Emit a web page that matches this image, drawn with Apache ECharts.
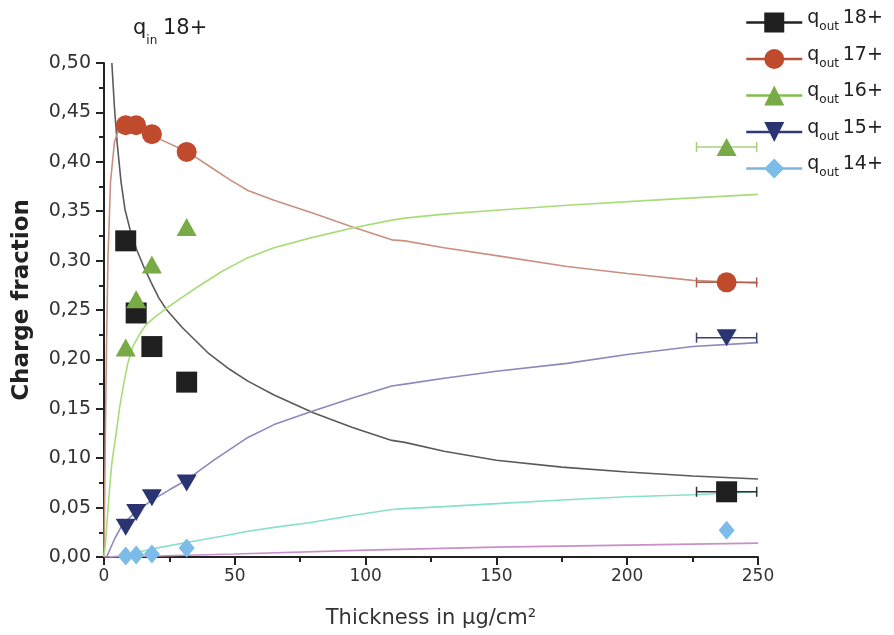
<!DOCTYPE html>
<html>
<head>
<meta charset="utf-8">
<script src="https://cdn.jsdelivr.net/npm/echarts@6/dist/echarts.min.js"></script>
<style>html,body{margin:0;padding:0;background:#fff}#c{width:894px;height:635px}</style>
</head>
<body>
<div id="c"></div>
<script>
// ---- Data ----
const thickness = [8.3, 12.3, 18.3, 31.6, 238];
const q18 = [0.320, 0.247, 0.213, 0.177, 0.066];
const q17 = [0.437, 0.437, 0.428, 0.410, 0.278];
const q16 = [0.212, 0.261, 0.296, 0.334, 0.415];
const q15 = [0.030, 0.045, 0.060, 0.075, 0.222];
const q14 = [0.001, 0.002, 0.003, 0.009, 0.027];
const xErr = [0, 0, 0, 0, 11.5];
const seriesLabels = ['18+', '17+', '16+', '15+', '14+'];
const yTickLabels = ['0,00', '0,05', '0,10', '0,15', '0,20', '0,25', '0,30', '0,35', '0,40', '0,45', '0,50'];

// simulated curves
const sim18x = [3, 4, 5, 6.5, 8, 10, 12.5, 15, 18, 21, 24, 30, 40, 48, 55, 65, 80, 95, 110, 115, 130, 150, 175, 200, 225, 250];
const sim18y = [0.50, 0.455, 0.42, 0.38, 0.352, 0.331, 0.311, 0.295, 0.278, 0.262, 0.250, 0.232, 0.206, 0.190, 0.178, 0.164, 0.146, 0.131, 0.118, 0.116, 0.107, 0.098, 0.091, 0.086, 0.082, 0.079];
const sim17x = [0, 0.5, 1, 1.5, 2.5, 4, 6, 8, 12, 18, 32, 40, 48, 55, 65, 80, 95, 110, 115, 130, 150, 177, 200, 225, 250];
const sim17y = [0, 0.12, 0.22, 0.30, 0.38, 0.42, 0.436, 0.438, 0.435, 0.427, 0.410, 0.396, 0.382, 0.371, 0.361, 0.348, 0.334, 0.321, 0.320, 0.313, 0.305, 0.294, 0.287, 0.280, 0.277];
const sim16x = [0, 0.5, 1, 2, 3, 4, 4.8, 6, 7.3, 9, 11, 13.5, 16, 20, 24, 30, 35, 45, 55, 65, 79, 95, 110, 115, 130, 150, 177, 215, 250];
const sim16y = [0, 0.012, 0.03, 0.065, 0.095, 0.114, 0.128, 0.152, 0.172, 0.195, 0.213, 0.225, 0.235, 0.244, 0.252, 0.263, 0.272, 0.289, 0.303, 0.313, 0.323, 0.333, 0.341, 0.343, 0.347, 0.351, 0.356, 0.362, 0.367];
const sim15x = [1, 4, 7.3, 12, 18, 25, 31.6, 42, 55, 65, 79, 95, 110, 115, 130, 150, 177, 200, 225, 250];
const sim15y = [0, 0.018, 0.034, 0.045, 0.057, 0.068, 0.078, 0.098, 0.121, 0.134, 0.147, 0.161, 0.173, 0.175, 0.181, 0.188, 0.196, 0.205, 0.213, 0.217];
const sim14x = [2, 6, 10, 15, 20, 32, 45, 55, 65, 79, 95, 110, 115, 130, 150, 177, 200, 225, 250];
const sim14y = [0, 0.001, 0.003, 0.006, 0.009, 0.015, 0.021, 0.026, 0.030, 0.035, 0.042, 0.048, 0.049, 0.051, 0.054, 0.058, 0.061, 0.063, 0.066];
const sim13x = [0, 20, 50, 100, 150, 200, 250];
const sim13y = [0, 0.001, 0.003, 0.007, 0.010, 0.012, 0.014];

// ---- Styles ----
const FONT = '"DejaVu Sans", Verdana, sans-serif';
const markerColors = ['#1f1f1f', '#c04a2c', '#78aa45', '#2a3472', '#7dbbe8'];
const legendLineColors = ['#222222', '#b9503a', '#7fbf4a', '#2e3a78', '#7ab4e0'];
const curveColors = ['#5a5a5a', '#c8917f', '#a8dc78', '#8a88bc', '#86e0cc', '#c890c8'];
const errColors = ['#333333', '#b06050', '#a8d080', '#3a4070'];
const symbols = ['rect', 'circle', 'triangle', 'triangle', 'diamond'];
const symbolSizes = [[21, 21], [20, 20], [20, 18], [20, 17], [16, 19]];
const symbolRotates = [0, 0, 0, 180, 0];

const pointSets = [q18, q17, q16, q15, q14];
const simSets = [[sim18x, sim18y], [sim17x, sim17y], [sim16x, sim16y], [sim15x, sim15y], [sim14x, sim14y], [sim13x, sim13y]];

const series = [];
simSets.forEach((s, i) => {
  series.push({
    name: 'sim' + i,
    type: 'line',
    data: s[0].map((x, j) => [x, s[1][j]]),
    showSymbol: false,
    smooth: false,
    clip: true,
    silent: true,
    lineStyle: { color: curveColors[i], width: 1.6 },
    z: 2
  });
});

// error bars
[q18, q17, q16, q15].forEach((arr, k) => {
  series.push({
    name: 'err' + k,
    type: 'custom',
    z: 3,
    silent: true,
    data: thickness.map((x, j) => [x, arr[j], xErr[j]]).filter(d => d[2] > 0),
    renderItem: function (params, api) {
      const x = api.value(0), y = api.value(1), e = api.value(2);
      const p1 = api.coord([x - e, y]);
      const p2 = api.coord([x + e, y]);
      const h = 5;
      const st = { stroke: errColors[k], lineWidth: 1.5 };
      return {
        type: 'group',
        children: [
          { type: 'line', shape: { x1: p1[0], y1: p1[1], x2: p2[0], y2: p2[1] }, style: st },
          { type: 'line', shape: { x1: p1[0], y1: p1[1] - h, x2: p1[0], y2: p1[1] + h }, style: st },
          { type: 'line', shape: { x1: p2[0], y1: p2[1] - h, x2: p2[0], y2: p2[1] + h }, style: st }
        ]
      };
    }
  });
});

pointSets.forEach((arr, i) => {
  series.push({
    name: 'q' + seriesLabels[i],
    type: 'line',
    data: thickness.map((x, j) => [x, arr[j]]),
    symbol: symbols[i],
    symbolSize: symbolSizes[i],
    symbolRotate: symbolRotates[i],
    showSymbol: true,
    showAllSymbol: true,
    clip: false,
    itemStyle: { color: markerColors[i], borderWidth: 0, opacity: 1 },
    lineStyle: { color: legendLineColors[i], width: 2, opacity: 0 },
    emphasis: { disabled: true },
    z: 5
  });
});

const chart = echarts.init(document.getElementById('c'), null, { renderer: 'canvas' });
chart.setOption({
  animation: false,
  backgroundColor: '#ffffff',
  textStyle: { fontFamily: FONT },
  title: {
    text: '{q|q}{s|in} {n|18+}',
    left: 128,
    top: 18,
    textStyle: {
      fontWeight: 'normal',
      rich: {
        q: { fontSize: 21, fontFamily: FONT, fontWeight: 'normal', color: '#222', lineHeight: 24, padding: [0, 0, 8, 0], verticalAlign: 'bottom' },
        s: { fontSize: 12, fontFamily: FONT, fontWeight: 'normal', color: '#222', lineHeight: 12, verticalAlign: 'bottom' },
        n: { fontSize: 21, fontFamily: FONT, fontWeight: 'normal', color: '#222', lineHeight: 24, padding: [0, 0, 8, 0], verticalAlign: 'bottom' }
      }
    }
  },
  legend: {
    data: seriesLabels.map(l => 'q' + l),
    orient: 'vertical',
    left: 740,
    top: 4,
    padding: 5,
    itemWidth: 56,
    itemHeight: 25,
    itemGap: 12.5,
    selectedMode: false,
    lineStyle: { width: 2.5, opacity: 1 },
    formatter: function (name) {
      return '{q|q}{s|out} {n|' + name.slice(1) + '}';
    },
    textStyle: {
      padding: [0, 0, 0, 0],
      rich: {
        q: { fontSize: 19, fontFamily: FONT, color: '#222', lineHeight: 27, verticalAlign: 'top' },
        s: { fontSize: 12, fontFamily: FONT, color: '#222', lineHeight: 27, padding: [12, 0, 0, 0], verticalAlign: 'top' },
        n: { fontSize: 19, fontFamily: FONT, color: '#222', lineHeight: 27, verticalAlign: 'top' }
      }
    }
  },
  grid: { left: 104, right: 136, top: 63, bottom: 78, containLabel: false },
  xAxis: {
    type: 'value',
    min: 0, max: 250, interval: 50,
    name: 'Thickness in µg/cm²',
    nameLocation: 'middle',
    nameGap: 51,
    nameTextStyle: { fontSize: 21, color: '#333', fontFamily: FONT },
    axisLine: { show: true, onZero: false, lineStyle: { color: '#222', width: 2 } },
    axisTick: { show: true, inside: false, length: 8, lineStyle: { color: '#222', width: 2 } },
    minorTick: { show: true, splitNumber: 2, length: 5, lineStyle: { color: '#222', width: 2 } },
    axisLabel: { fontSize: 17, color: '#333', margin: 11, fontFamily: FONT },
    splitLine: { show: false }
  },
  yAxis: {
    type: 'value',
    min: 0, max: 0.5, interval: 0.05,
    name: 'Charge fraction',
    nameLocation: 'middle',
    nameGap: 70,
    nameRotate: 90,
    nameTextStyle: { fontSize: 23, fontWeight: 'bold', color: '#222', fontFamily: FONT, padding: [0, 0, 0, 20] },
    axisLine: { show: true, onZero: false, lineStyle: { color: '#222', width: 2 } },
    axisTick: { show: true, inside: false, length: 8, lineStyle: { color: '#222', width: 2 } },
    minorTick: { show: true, splitNumber: 2, length: 5, lineStyle: { color: '#222', width: 2 } },
    axisLabel: {
      fontSize: 19, color: '#333', margin: 13, fontFamily: FONT,
      formatter: v => yTickLabels[Math.round(v / 0.05)]
    },
    splitLine: { show: false }
  },
  series: series
});
</script>
</body>
</html>
